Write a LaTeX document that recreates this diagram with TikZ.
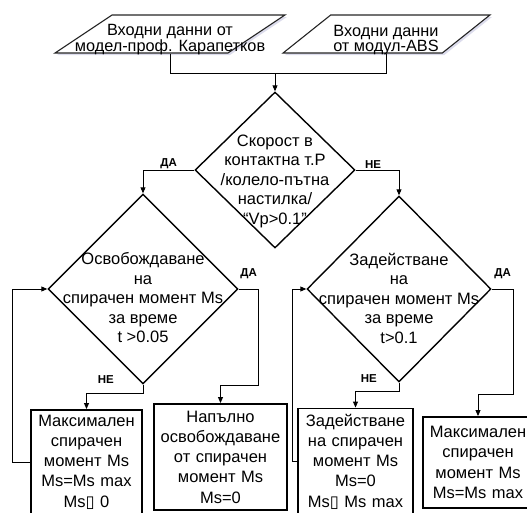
\documentclass[tikz,border=0pt]{standalone}
\usepackage{fontspec}
\setmainfont{Liberation Sans}
\newfontfamily\symfont{DejaVu Sans}
\usetikzlibrary{shapes.geometric, arrows.meta, positioning, calc, shadows}

\begin{document}
\begin{tikzpicture}[x=1pt, y=-1pt,
  inbox/.style={draw=black!85, line width=1.1pt, trapezium, trapezium stretches=true,
    minimum height=38pt, inner sep=0pt, fill=white,
    drop shadow={fill=blue!30!gray!35, shadow xshift=2pt, shadow yshift=-2pt, opacity=0.6}},
  intext/.style={align=center, font=\fontsize{16.3}{14.5}\selectfont, inner sep=0pt},
  decision/.style={draw, diamond, line width=1.4pt, inner sep=0pt},
  dtext/.style={align=center, font=\fontsize{16.5}{19.5}\selectfont, inner sep=0pt},
  action/.style={draw, line width=1.9pt, inner sep=2pt, align=center,
    font=\fontsize{16.5}{20.3}\selectfont},
  flow/.style={line width=0.9pt, -{Triangle[length=6pt, width=5pt]}},
  link/.style={line width=0.9pt},
  yesno/.style={font=\fontsize{11.5}{12}\selectfont\bfseries, inner sep=1pt}]
  \useasboundingbox (0,0) rectangle (527,512);

  % input data
  \node[inbox, trapezium left angle=65, trapezium right angle=115, minimum width=230pt] (model) at (170,34) {\phantom{x}};
  \node[intext] (modeltext) at (170,40) {Входни данни от\\модел-проф. Карапетков};
  \node[inbox, trapezium left angle=68, trapezium right angle=112, minimum width=207pt] (abs) at (386.5,34) {\phantom{x}};
  \node[intext] (abstext) at (386,40) {Входни данни\\от модул-ABS};
  \coordinate (join) at (275,73);

  % decisions
  \node[decision, minimum width=160pt, minimum height=156pt] (speed) at (275,170) {};
  \node[dtext] (speedtext) at (275,181) {Скорост в\\контактна т.Р\\/колело-пътна\\настилка/\\“Vp>0.1”};
  \node[decision, minimum width=190pt, minimum height=190pt] (release) at (143,289) {};
  \node[dtext] (releasetext) at (143,298) {Освобождаване\\на\\спирачен момент Ms\\за време\\t >0.05};
  \node[decision, minimum width=184pt, minimum height=186pt] (apply) at (399,289) {};
  \node[dtext] (applytext) at (399,298) {Задействане\\на\\спирачен момент Ms\\за време\\t>0.1};

  % actions
  \node[action, text width=107pt, minimum height=104pt] (maxhold) at (86.5,462)
    {Максимален\\спирачен\\момент Ms\\Ms=Ms max\\Ms{\symfont ▯} 0};
  \node[action, text width=129pt, minimum height=106pt] (fullrelease) at (220.5,457)
    {Напълно\\освобождаване\\от спирачен\\момент Ms\\Ms=0};
  \node[action, text width=111pt, minimum height=106pt] (applyzero) at (355.5,461.5)
    {Задействане\\на спирачен\\момент Ms\\Ms=0\\Ms{\symfont ▯} Ms max};
  \node[action, text width=106pt, minimum height=91pt] (maxapply) at (478,462.5)
    {Максимален\\спирачен\\момент Ms\\Ms=Ms max};

  \node[yesno, left=28pt of release.south, yshift=5pt] (relno) {НЕ};
  \node[yesno, left=21pt of apply.south, yshift=4pt] (appno) {НЕ};

  % connectors
  \draw[link] (model.south) |- (join);
  \draw[link] (abs.south) |- (join);
  \draw[flow] (join) -- (speed.north);
  \draw[flow] (speed.west) -| node[yesno, pos=0.25, above]{ДА} (release.north);
  \draw[flow] (speed.east) -| node[yesno, pos=0.2, above]{НЕ} (apply.north);
  \draw[flow] (release.east) -- node[yesno, above=9pt]{ДА} ++(20,0) |- ($(fullrelease.north)+(0,-18)$) -- (fullrelease.north);
  \draw[flow] (release.south) -- ++(0,9) -| (maxhold.north);
  \draw[flow] (apply.east) -- node[yesno, above=9pt]{ДА} ++(22,0) |- ($(maxapply.north)+(0,-22)$) -- (maxapply.north);
  \draw[flow] (apply.south) -- ++(0,9) -| (applyzero.north);
  \draw[flow] (maxhold.west) -- ++(-18,0) |- (release.west);
  \draw[flow] (applyzero.west) -- ++(-5,0) |- (apply.west);
\end{tikzpicture}
\end{document}
